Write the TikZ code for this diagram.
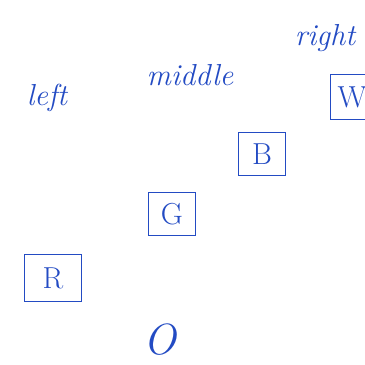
\documentclass[tikz,border=0pt]{standalone}
\usepackage{tikz}
\usetikzlibrary{positioning}
\definecolor{tintaAzul}{RGB}{35,75,195}

\begin{document}
\begin{tikzpicture}[x=0.02cm, y=-0.02cm,
  etq/.style={font=\LARGE\itshape, color=tintaAzul},
  caja/.style={rectangle, draw=tintaAzul, thick, font=\LARGE,
               color=tintaAzul, minimum width=0.95cm, minimum height=0.85cm}
]
  \useasboundingbox (0,0) rectangle (365,365);
  \clip (0,0) rectangle (365,365);

  \node[etq] (left) at (47,98) {left};
  \node[etq] (middle) at (190,75) {middle};
  \node[etq] (right) at (325,38) {right};

  \node[caja, minimum width=0.85cm, minimum height=0.9cm] (W) at (352,97) {W};
  \node[caja] (B) at (262,154) {B};
  \node[caja] (G) at (172,214) {G};
  \node[caja, minimum width=1.15cm, minimum height=0.95cm] (R) at (53,278) {R};

  \node[font=\Huge\itshape, color=tintaAzul] (O) at (160,340) {O};
\end{tikzpicture}
\end{document}
